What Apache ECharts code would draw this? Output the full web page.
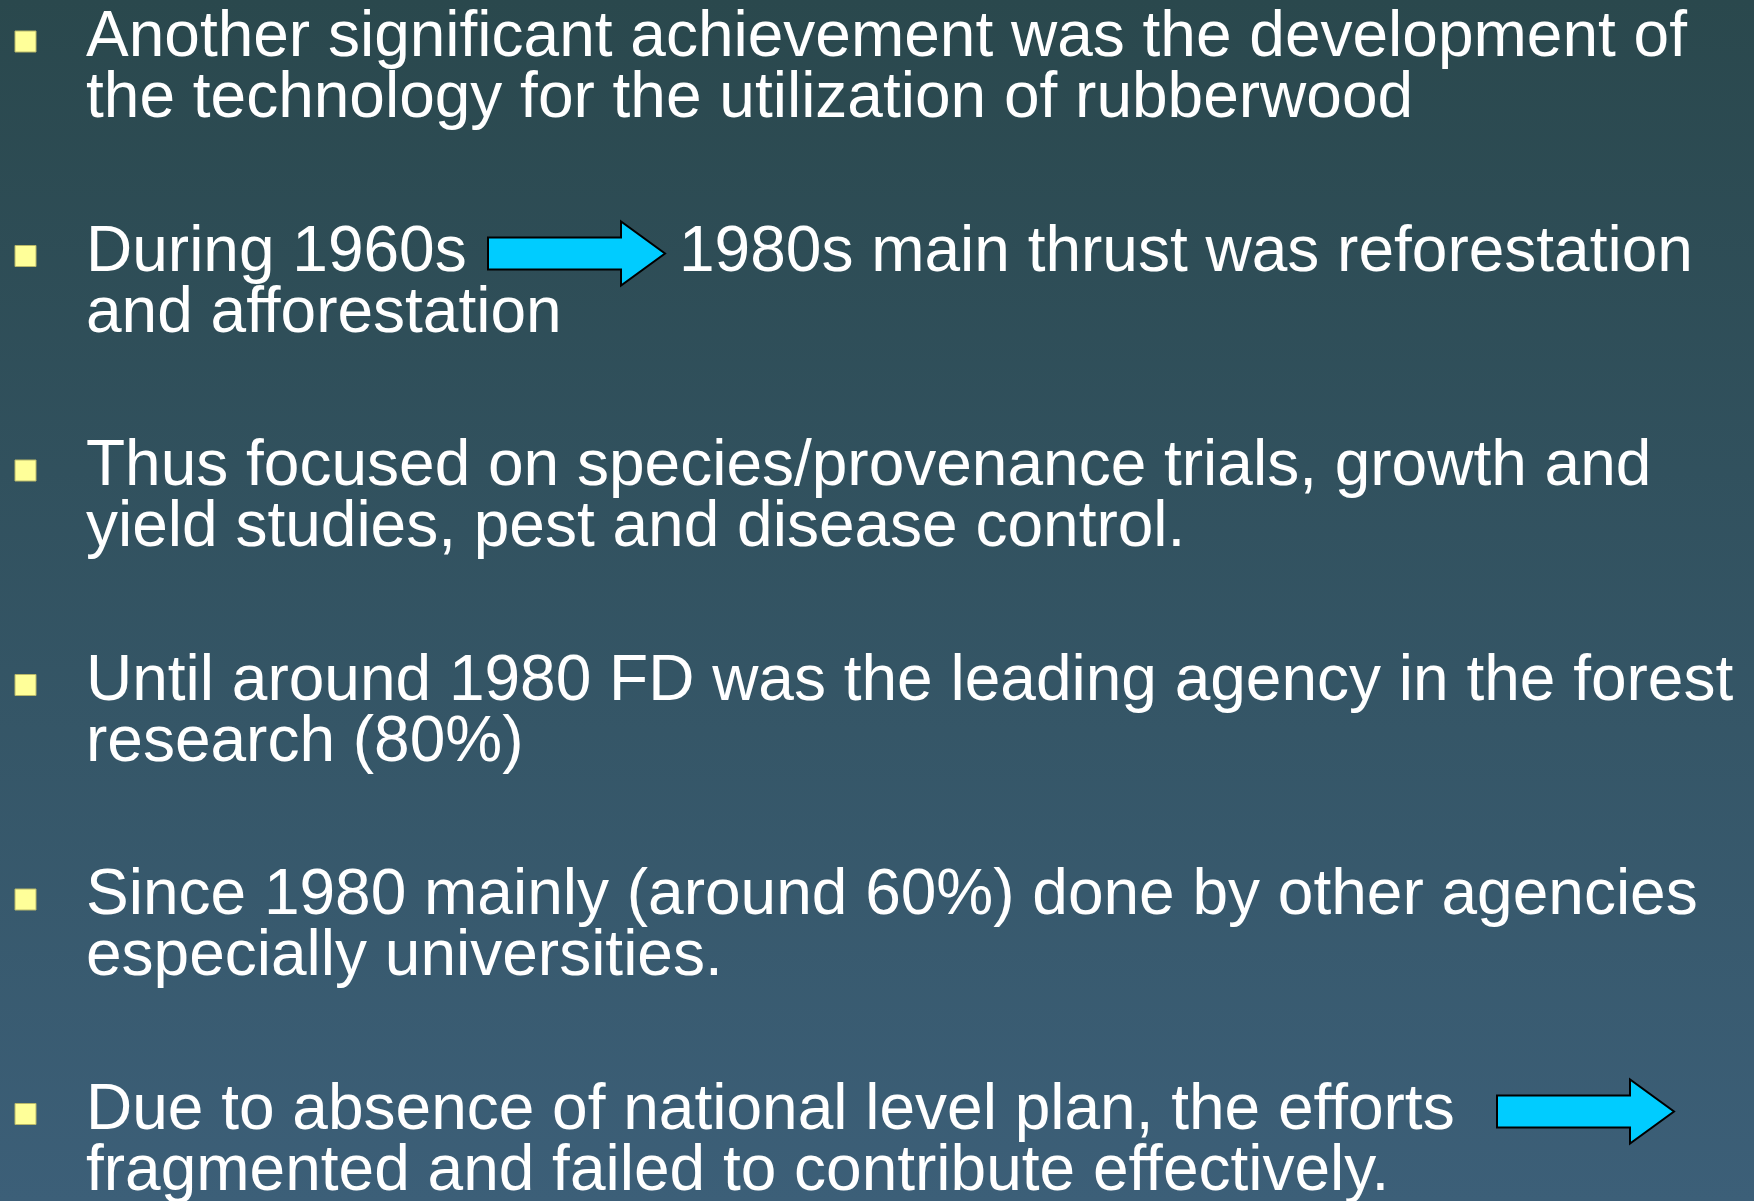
<!DOCTYPE html>
<html>
<head>
<meta charset="utf-8">
<script src="https://cdn.jsdelivr.net/npm/echarts@6/dist/echarts.min.js"></script>
<style>
html,body{margin:0;padding:0;background:#2a484d;}
#main{width:1754px;height:1201px;}
</style>
</head>
<body>
<div id="main"></div>
<script>
// ---- content ----
const bulletLines = [
  ["Another significant achievement was the development of", "the technology for the utilization of rubberwood"],
  ["During 1960s", "and afforestation"],
  ["Thus focused on species/provenance trials, growth and", "yield studies, pest and disease control."],
  ["Until around 1980 FD was the leading agency in the forest", "research (80%)"],
  ["Since 1980 mainly (around 60%) done by other agencies", "especially universities."],
  ["Due to absence of national level plan, the efforts", "fragmented and failed to contribute effectively."]
];
// text continuing after an inline arrow: [bullet index, text]
const afterArrowText = [[1, "1980s main thrust was reforestation"]];
// inline arrows: bullet index they belong to
const arrowBullets = [1, 5];

// ---- layout ----
const FONT = '"Liberation Sans", Arial, sans-serif';
const FS = 64;
const textX = 86;
const firstBaseline = 56;
const bulletPitch = 214.5;
const lineGap = 61;
const topToBaseline = 49.5;
const arrowStartX = {1: 488, 5: 1497};
const arrowLen = 177, arrowHeadLen = 44, bodyH = 32, headH = 64;
const afterArrowX = 679;

const chart = echarts.init(document.getElementById('main'), null, {renderer: 'canvas'});
const graphics = [];

function baseline(b, l) { return firstBaseline + b * bulletPitch + l * lineGap; }

function textEl(x, bl, t) {
  return {
    type: 'text',
    x: x, y: bl - topToBaseline,
    style: {text: t, fill: '#ffffff', font: FS + 'px ' + FONT, align: 'left', verticalAlign: 'top', lineHeight: FS}
  };
}

bulletLines.forEach((lines, b) => {
  const bl = baseline(b, 0);
  graphics.push({
    type: 'rect',
    shape: {x: 15, y: bl - 25, width: 21, height: 21},
    style: {fill: '#ffff99', stroke: '#b8b86a', lineWidth: 1}
  });
  lines.forEach((t, l) => graphics.push(textEl(textX, baseline(b, l), t)));
});

afterArrowText.forEach(([b, t]) => graphics.push(textEl(afterArrowX, baseline(b, 0), t)));

arrowBullets.forEach(b => {
  const x0 = arrowStartX[b];
  const cy = baseline(b, 0) - 17;
  const hx = x0 + arrowLen - arrowHeadLen, tip = x0 + arrowLen;
  graphics.push({
    type: 'polygon',
    shape: {points: [
      [x0, cy - bodyH / 2], [hx, cy - bodyH / 2], [hx, cy - headH / 2], [tip, cy],
      [hx, cy + headH / 2], [hx, cy + bodyH / 2], [x0, cy + bodyH / 2]
    ]},
    style: {fill: '#00ccff', stroke: '#000000', lineWidth: 2, lineJoin: 'miter'}
  });
});

chart.setOption({
  backgroundColor: {
    type: 'linear', x: 0, y: 0, x2: 0, y2: 1,
    colorStops: [{offset: 0, color: '#2a484d'}, {offset: 1, color: '#3c5f78'}]
  },
  animation: false,
  graphic: graphics
});
</script>
</body>
</html>
